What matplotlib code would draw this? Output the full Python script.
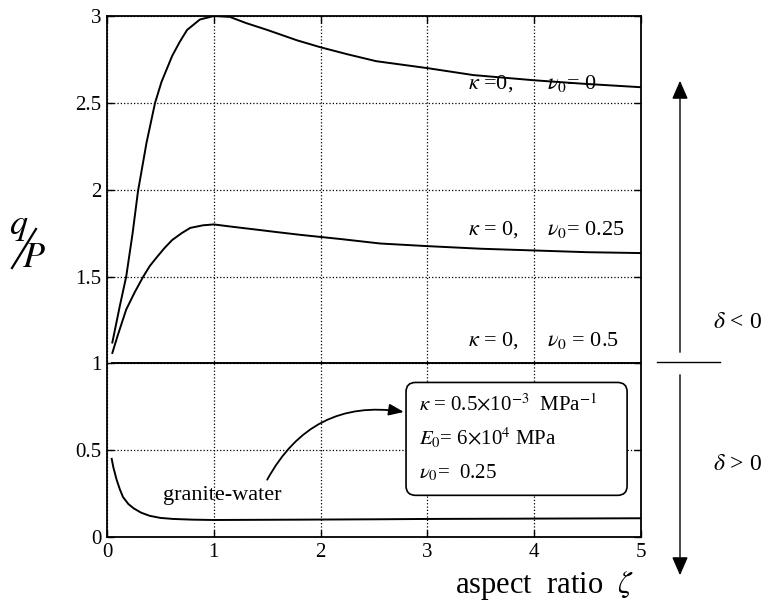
import matplotlib
matplotlib.use("Agg")
import matplotlib.pyplot as plt
from matplotlib.patches import FancyBboxPatch, FancyArrowPatch
import numpy as np

plt.rcParams['font.family'] = ['Liberation Serif', 'DejaVu Serif']
plt.rcParams['mathtext.fontset'] = 'stix'

# curve data
x_nu0 = [0.05, 0.12, 0.18, 0.24, 0.29, 0.37, 0.45, 0.51, 0.61, 0.68, 0.75, 0.87, 1.0,
         1.15, 1.3, 1.5, 1.78, 2.0, 2.25, 2.52, 3.0, 3.43, 4.0, 4.46, 5.0]
y_nu0 = [1.12, 1.33, 1.5, 1.75, 1.99, 2.27, 2.5, 2.62, 2.77, 2.85, 2.92, 2.98, 3.0,
         2.995, 2.96, 2.92, 2.86, 2.82, 2.78, 2.74, 2.70, 2.66, 2.63, 2.61, 2.59]

x_nu025 = [0.05, 0.1, 0.18, 0.26, 0.34, 0.4, 0.465, 0.54, 0.61, 0.7, 0.78, 0.9, 1.0,
           1.18, 1.4, 1.56, 1.81, 2.2, 2.56, 3.0, 3.5, 4.0, 4.5, 5.0]
y_nu025 = [1.06, 1.16, 1.31, 1.41, 1.5, 1.56, 1.61, 1.665, 1.71, 1.75, 1.78, 1.795, 1.8,
           1.786, 1.77, 1.758, 1.74, 1.715, 1.69, 1.675, 1.66, 1.65, 1.64, 1.635]

x_nu05 = [0.05, 1.0, 2.0, 3.0, 4.0, 5.0]
y_nu05 = [1.0, 1.0, 1.0, 1.0, 1.0, 1.0]

x_granite = [0.044, 0.06, 0.09, 0.12, 0.15, 0.2, 0.25, 0.32, 0.4, 0.5, 0.62, 0.8, 1.0,
             1.4, 1.81, 2.5, 3.0, 4.0, 5.0]
y_granite = [0.45, 0.4, 0.33, 0.275, 0.23, 0.19, 0.165, 0.14, 0.122, 0.11, 0.104, 0.1, 0.098,
             0.099, 0.1, 0.102, 0.104, 0.106, 0.108]

x_ticks = [0, 1, 2, 3, 4, 5]
y_ticks = [0, 0.5, 1, 1.5, 2, 2.5, 3]
y_ticklabels = ['0', '0.5', '1', '1.5', '2', '2.5', '3']

fig = plt.figure(figsize=(7.67, 6.07), dpi=100)
ax = fig.add_axes([0.1395, 0.1153, 0.6962, 0.8583])

for xs, ys in [(x_nu0, y_nu0), (x_nu025, y_nu025), (x_nu05, y_nu05), (x_granite, y_granite)]:
    ax.plot(xs, ys, color='black', lw=1.4, solid_joinstyle='round')

ax.set_xlim(0, 5)
ax.set_ylim(0, 3)
ax.set_xticks(x_ticks)
ax.set_yticks(y_ticks)
ax.set_yticklabels(y_ticklabels)
ax.tick_params(direction='in', top=True, right=True, length=5, labelsize=15, width=1.0, pad=4)
ax.grid(True, linestyle=':', color='black', lw=0.9)
for s in ax.spines.values():
    s.set_linewidth(1.3)

# curve labels
ax.text(3.38, 2.58, r'$\kappa$ =0,', fontsize=16)
ax.text(4.12, 2.58, r'$\nu_0$= 0', fontsize=16)
ax.text(3.38, 1.74, r'$\kappa$ = 0,', fontsize=16)
ax.text(4.12, 1.74, r'$\nu_0$= 0.25', fontsize=16)
ax.text(3.38, 1.1, r'$\kappa$ = 0,', fontsize=16)
ax.text(4.12, 1.1, r'$\nu_0$ = 0.5', fontsize=16)

# parameter box
box = FancyBboxPatch((2.8, 0.24), 2.07, 0.65, boxstyle='round,pad=0,rounding_size=0.09',
                     transform=ax.transData, facecolor='white', edgecolor='black', lw=1.2,
                     mutation_aspect=0.6, zorder=3)
ax.add_patch(box)
ax.text(2.92, 0.76, r'$\kappa$ = 0.5$\times$10$^{-3}$  MPa$^{-1}$', fontsize=15, va='center', zorder=4)
ax.text(2.92, 0.57, r'$E_0$= 6$\times$10$^{4}$ MPa', fontsize=15, va='center', zorder=4)
ax.text(2.92, 0.37, r'$\nu_0$=  0.25', fontsize=15, va='center', zorder=4)

ax.annotate('', xy=(2.78, 0.72), xytext=(1.5, 0.33),
            arrowprops=dict(arrowstyle='-|>,head_length=0.9,head_width=0.35', color='black', lw=1.3,
                            connectionstyle='arc3,rad=-0.35', shrinkA=0, shrinkB=0), zorder=5)
ax.text(1.08, 0.24, 'granite-water', fontsize=16, ha='center', va='center')

# y label q/P
fig.text(19 / 767, 1 - 226 / 607, r'$q$', fontsize=26, ha='center', va='center')
fig.add_artist(plt.Line2D([12 / 767, 36 / 767], [1 - 268 / 607, 1 - 229 / 607],
                          transform=fig.transFigure, color='black', lw=1.6))
fig.text(34 / 767, 1 - 258 / 607, r'$P$', fontsize=26, ha='center', va='center')

# x label
fig.text(545 / 767, 1 - 585 / 607, r'aspect  ratio  $\zeta$', fontsize=22, ha='center', va='center')

# delta arrows on the right
fig.patches.append(FancyArrowPatch(
    (680 / 767, 1 - 355 / 607), (680 / 767, 1 - 78 / 607), transform=fig.transFigure,
    arrowstyle='-|>,head_length=0.8,head_width=0.35', color='black', lw=1.0, mutation_scale=14))
fig.patches.append(FancyArrowPatch(
    (680 / 767, 1 - 372 / 607), (680 / 767, 1 - 578 / 607), transform=fig.transFigure,
    arrowstyle='-|>,head_length=0.8,head_width=0.35', color='black', lw=1.0, mutation_scale=14))
fig.add_artist(plt.Line2D([657 / 767, 720 / 767], [1 - 362 / 607, 1 - 362 / 607],
                          transform=fig.transFigure, color='black', lw=1.0))
fig.text(737 / 767, 1 - 322 / 607, r'$\delta$ < 0', fontsize=17, ha='center', va='center')
fig.text(737 / 767, 1 - 465 / 607, r'$\delta$ > 0', fontsize=17, ha='center', va='center')

fig.savefig('out.png', dpi=100, facecolor='white')
